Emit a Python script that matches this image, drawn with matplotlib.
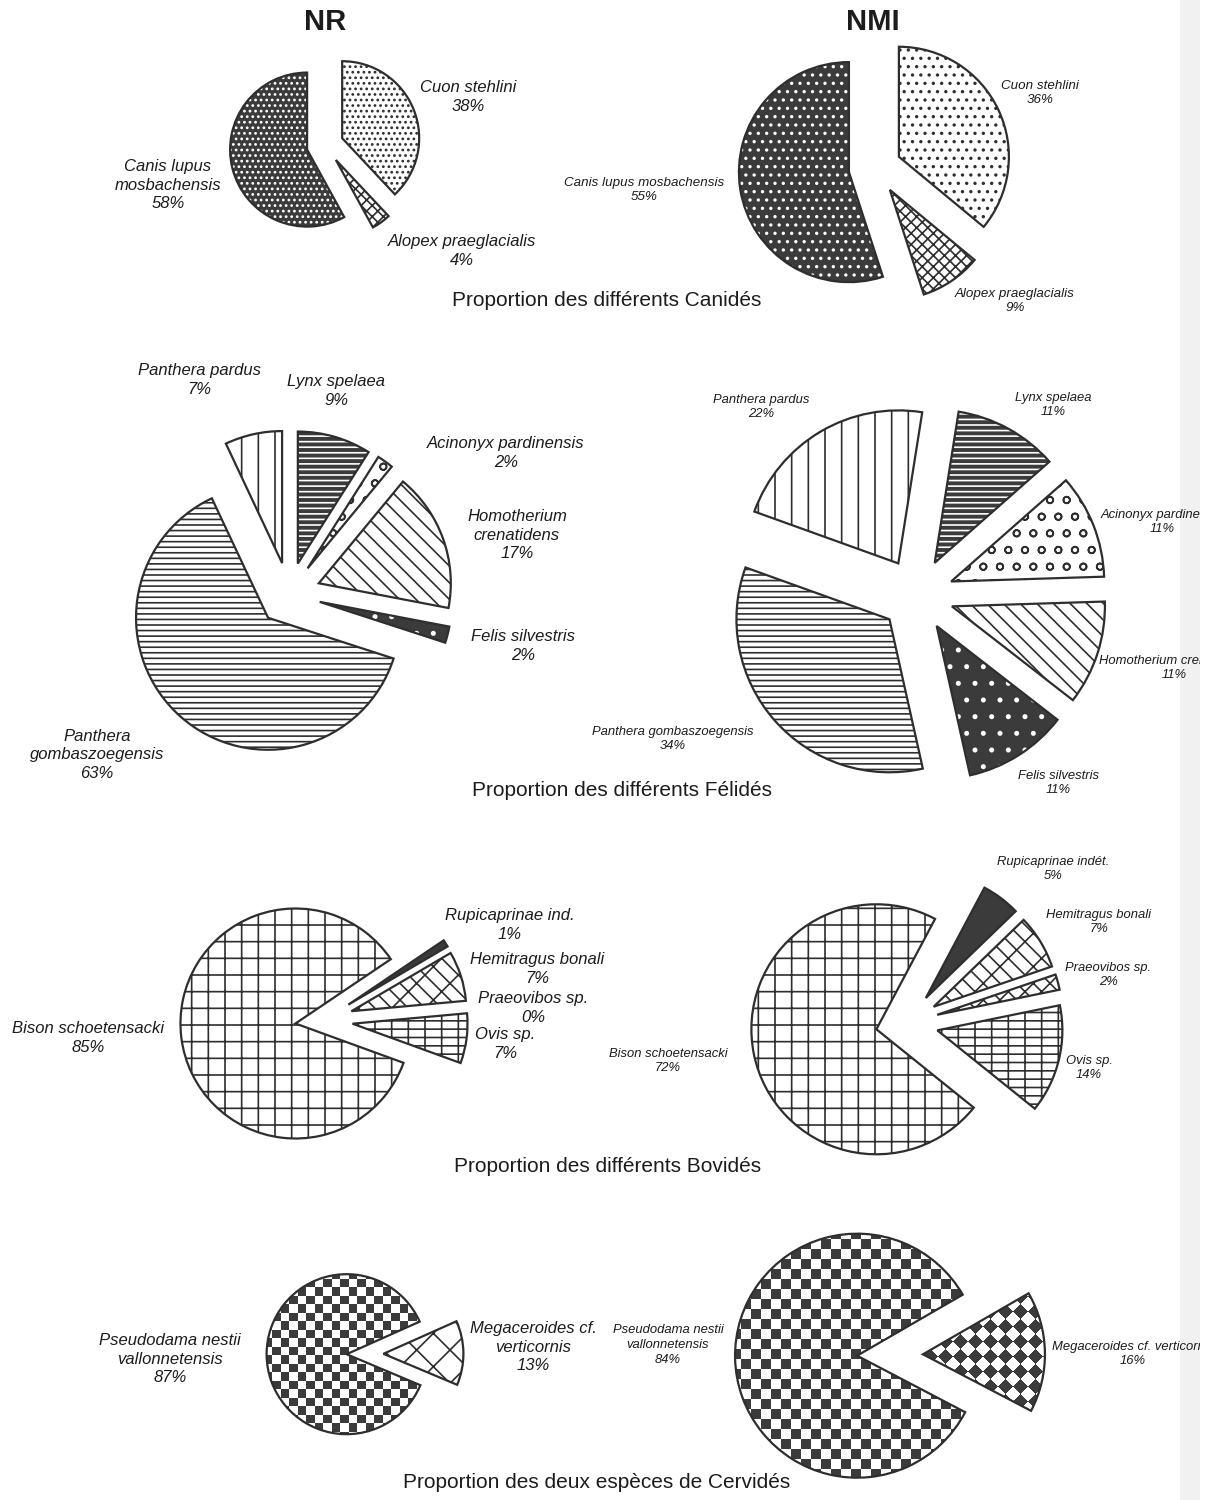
import numpy as np
import matplotlib.pyplot as plt
from matplotlib.colors import ListedColormap

W, H = 1207, 1500
INK = '#2e2e2e'
DARK = '#3b3b3b'
TXT = '#1c1c1c'

# ---- data ----
canid_nr_names = ['Cuon stehlini', 'Alopex praeglacialis', 'Canis lupus\nmosbachensis']
canid_nr = [38, 4, 58]
canid_nmi_names = ['Cuon stehlini', 'Alopex praeglacialis', 'Canis lupus mosbachensis']
canid_nmi = [36, 9, 55]

felid_nr_names = ['Lynx spelaea', 'Acinonyx pardinensis', 'Homotherium\ncrenatidens',
                  'Felis silvestris', 'Panthera\ngombaszoegensis', 'Panthera pardus']
felid_nr = [9, 2, 17, 2, 63, 7]
felid_nmi_names = ['Lynx spelaea', 'Acinonyx pardinensis', 'Homotherium crenatidens',
                   'Felis silvestris', 'Panthera gombaszoegensis', 'Panthera pardus']
felid_nmi = [11, 11, 11, 11, 34, 22]

bovid_nr_names = ['Rupicaprinae ind.', 'Hemitragus bonali', 'Praeovibos sp.', 'Ovis sp.',
                  'Bison schoetensacki']
bovid_nr = [1, 7, 0, 7, 85]
bovid_nmi_names = ['Rupicaprinae indét.', 'Hemitragus bonali', 'Praeovibos sp.', 'Ovis sp.',
                   'Bison schoetensacki']
bovid_nmi = [5, 7, 2, 14, 72]

cervid_nr_names = ['Megaceroides cf.\nverticornis', 'Pseudodama nestii\nvallonnetensis']
cervid_nr = [13, 87]
cervid_nmi_names = ['Megaceroides cf. verticornis', 'Pseudodama nestii\nvallonnetensis']
cervid_nmi = [16, 84]

titles = ['Proportion des différents Canidés', 'Proportion des différents Félidés',
          'Proportion des différents Bovidés', 'Proportion des deux espèces de Cervidés']

plt.rcParams['hatch.linewidth'] = 1.2
plt.rcParams['font.family'] = ['Liberation Sans', 'DejaVu Sans']

fig = plt.figure(figsize=(W / 100, H / 100), dpi=100)
ax = fig.add_axes([0, 0, 1, 1])


def texture(wedge, cx, cy, r, cell, kind):
    ext = 1.6 * r
    x = np.arange(cx - ext, cx + ext, 1.0)
    y = np.arange(cy - ext, cy + ext, 1.0)
    xx, yy = np.meshgrid(x, y)
    if kind == 'checker':
        z = (np.floor(xx / cell) + np.floor(yy / cell)) % 2
    else:
        z = (np.floor((xx + yy) / cell) + np.floor((xx - yy) / cell)) % 2
    im = ax.imshow(z, extent=(x[0], x[-1] + 1, y[0], y[-1] + 1), origin='lower',
                   cmap=ListedColormap(['white', DARK]), interpolation='nearest', zorder=1.5)
    im.set_clip_path(wedge)


def draw_pie(values, cx, cy, r, start, styles, explode=0.24):
    vals = np.array(values, dtype=float)
    # pie() offsets exploded wedges in data units, so scale by the radius
    ex = [explode * r] * len(vals)
    center = (cx, H - cy)
    faces = [s[0] for s in styles]
    fill, _ = ax.pie(vals, explode=ex, startangle=start, counterclock=False,
                     center=center, radius=r, colors=faces,
                     wedgeprops=dict(linewidth=0))
    outl, _ = ax.pie(vals, explode=ex, startangle=start, counterclock=False,
                     center=center, radius=r,
                     wedgeprops=dict(facecolor='none', edgecolor=INK, linewidth=1.6, zorder=3))
    for w, o, v, (fc, h, hc) in zip(fill, outl, vals, styles):
        if v == 0:
            w.set_visible(False)
            o.set_visible(False)
            continue
        if h in ('checker', 'diamond'):
            texture(w, center[0], center[1], r, hc, h)
        elif h:
            w.set_hatch(h)
            w.set_edgecolor(hc)
            w.set_linewidth(0)


def labels(names, values, pos, size):
    for n, v, (x, y) in zip(names, values, pos):
        ax.text(x, H - y, f'{n}\n{v}%', ha='center', va='center', fontsize=size,
                style='italic', color=TXT, linespacing=1.3, zorder=5)


# ---- Canidés ----
draw_pie(canid_nr, 325, 145, 77, 90,
         [('white', '...', INK), ('white', 'xxx', INK), (DARK, '...', 'white')])
labels(canid_nr_names, canid_nr, [(468, 97), (462, 251), (168, 185)], 12)

draw_pie(canid_nmi, 875, 168, 110, 90,
         [('white', '..', INK), ('white', 'xxx', INK), (DARK, '..', 'white')])
labels(canid_nmi_names, canid_nmi, [(1040, 93), (1015, 301), (644, 190)], 9.6)

# ---- Félidés ----
felid_styles = [(DARK, '---', 'white'), ('white', 'o', INK), ('white', '\\\\', INK),
                (DARK, '.', 'white'), ('white', '---', INK), ('white', '|', INK)]
draw_pie(felid_nr, 289, 594, 132, 90, felid_styles)
labels(felid_nr_names, felid_nr,
       [(336, 391), (506, 453), (517, 535), (523, 646), (97, 755), (199, 380)], 12)

draw_pie(felid_nmi, 917, 595, 153, 81, felid_styles)
labels(felid_nmi_names, felid_nmi,
       [(1053, 405), (1162, 522), (1174, 668), (1058, 783), (673, 739), (761, 407)], 9.4)

# ---- Bovidés ----
bovid_styles = [(DARK, '', INK), ('white', '\\\\/', INK), ('white', 'xx', INK),
                ('white', '--|', INK), ('white', '+', INK)]
draw_pie(bovid_nr, 324, 1020, 115, 34, bovid_styles, explode=0.25)
labels(bovid_nr_names, bovid_nr,
       [(510, 925), (537, 969), (533, 1008), (505, 1044), (88, 1038)], 12)

draw_pie(bovid_nmi, 907, 1023, 125, 62, bovid_styles, explode=0.25)
labels(bovid_nmi_names, bovid_nmi,
       [(1053, 869), (1099, 922), (1108, 975), (1089, 1068), (668, 1061)], 9.4)

# ---- Cervidés ----
draw_pie(cervid_nr, 365, 1354, 80, 24,
         [('white', 'x', INK), ('white', 'checker', 8.5)], explode=0.23)
labels(cervid_nr_names, cervid_nr, [(533, 1347), (170, 1359)], 12)

draw_pie(cervid_nmi, 890, 1355, 122, 30,
         [('white', 'diamond', 15), ('white', 'checker', 10)], explode=0.27)
labels(cervid_nmi_names, cervid_nmi, [(1133, 1354), (668, 1345)], 9.4)

# ---- headers and captions ----
ax.text(325, H - 22, 'NR', ha='center', va='center', fontsize=21, fontweight='bold', color=TXT)
ax.text(873, H - 22, 'NMI', ha='center', va='center', fontsize=21, fontweight='bold', color=TXT)
for t, (x, y) in zip(titles, [(607, 300), (622, 790), (608, 1167), (597, 1483)]):
    ax.text(x, H - y, t, ha='center', va='center', fontsize=15, color=TXT)

# page edge of the scan: faint shading, then the page stops at x=1200
ax.axvspan(1180, 1200, color='#f2f1f1', zorder=0, lw=0)
ax.axvspan(1200, W, color='white', zorder=10, lw=0)

ax.set_xlim(0, W)
ax.set_ylim(0, H)
ax.set_aspect('auto')
ax.axis('off')

fig.savefig('out.png', dpi=100, facecolor='white')
